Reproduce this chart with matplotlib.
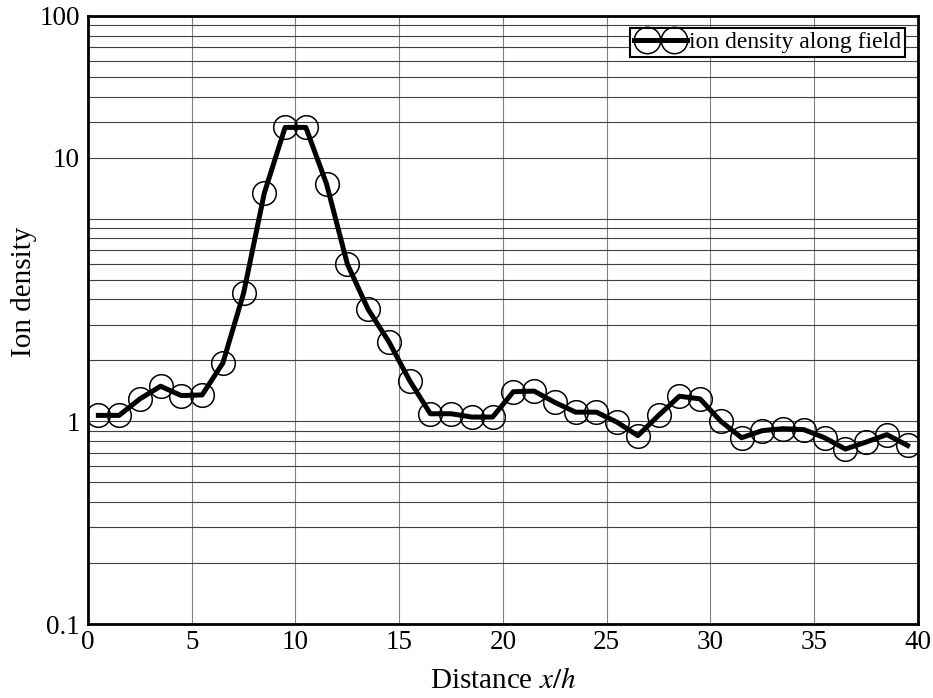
import numpy as np
import matplotlib
matplotlib.use("Agg")
import matplotlib.pyplot as plt
from matplotlib.lines import Line2D
from matplotlib.legend_handler import HandlerLine2D, HandlerTuple
from matplotlib.ticker import FixedLocator, LogLocator, NullFormatter

plt.rcParams['font.family'] = ['Liberation Serif', 'DejaVu Serif']
plt.rcParams['mathtext.fontset'] = 'stix'

# sample positions along the field (x/h) and ion density
distance = [0.5, 1.5, 2.5, 3.5, 4.5, 5.5, 6.5, 7.5, 8.5, 9.5,
            10.5, 11.5, 12.5, 13.5, 14.5, 15.5, 16.5, 17.5, 18.5, 19.5,
            20.5, 21.5, 22.5, 23.5, 24.5, 25.5, 26.5, 27.5, 28.5, 29.5,
            30.5, 31.5, 32.5, 33.5, 34.5, 35.5, 36.5, 37.5, 38.5, 39.5]
density = [1.07, 1.07, 1.29, 1.49, 1.34, 1.35, 1.94, 4.29, 13.4, 28.2,
           28.2, 14.8, 5.97, 3.57, 2.47, 1.59, 1.09, 1.09, 1.05, 1.05,
           1.40, 1.41, 1.24, 1.11, 1.11, 0.99, 0.85, 1.07, 1.33, 1.29,
           1.00, 0.83, 0.90, 0.92, 0.91, 0.83, 0.73, 0.79, 0.86, 0.76]

# tick labels as printed on the reference (the "10" label sits on the 20 line)
ytick_pos = [0.1, 1, 20, 100]
ytick_lab = ['0.1', '1', '10', '100']
xticks = [0, 5, 10, 15, 20, 25, 30, 35, 40]

fig = plt.figure(figsize=(9.33, 6.98), dpi=100)
ax = fig.add_axes([0.0943, 0.106, 0.8896, 0.8711])

ax.plot(distance, density, color='black', linewidth=3.6, marker='o',
        markersize=17, markerfacecolor='none', markeredgecolor='black',
        markeredgewidth=1.1, zorder=3)

ax.set_yscale('log')
ax.set_ylim(0.1, 100)
ax.set_xlim(0, 40)

ax.yaxis.set_major_locator(FixedLocator(ytick_pos))
ax.set_yticklabels(ytick_lab)
ax.yaxis.set_minor_locator(LogLocator(base=10, subs=np.arange(1, 10)))
ax.yaxis.set_minor_formatter(NullFormatter())
ax.set_xticks(xticks)
ax.set_xticklabels([str(t) for t in xticks])

ax.grid(True, which='both', axis='y', color='#404040', linewidth=0.8)
ax.grid(True, which='major', axis='x', color='#808080', linewidth=0.8)
ax.tick_params(which='both', length=0, labelsize=19.5)
ax.tick_params(axis='x', pad=4)
ax.tick_params(axis='y', pad=6)

for s in ax.spines.values():
    s.set_linewidth(2)
    s.set_zorder(4)

ax.set_xlabel('Distance $x/h$', fontsize=21)
ax.xaxis.set_label_coords(0.5, -0.072)
ax.set_ylabel('Ion density', fontsize=21)
ax.yaxis.set_label_coords(-0.062, 0.546)

# legend handle: thick line across, two open circles on it
line_proxy = Line2D([], [], color='black', linewidth=3.6)
mark_proxy = Line2D([], [], color='black', linestyle='none', marker='o',
                    markersize=19, markerfacecolor='none', markeredgewidth=1.1)
leg = ax.legend(handles=[(line_proxy, mark_proxy)],
                labels=['ion density along field'],
                handler_map={tuple: HandlerTuple(ndivide=1, pad=0),
                             line_proxy: HandlerLine2D(numpoints=1),
                             mark_proxy: HandlerLine2D(numpoints=2, marker_pad=0.55)},
                loc='upper right', bbox_to_anchor=(0.984, 0.980),
                fontsize=17, fancybox=False, framealpha=1, edgecolor='black',
                borderpad=0.15, handlelength=2.25, handletextpad=0.1,
                borderaxespad=0)
leg.get_frame().set_linewidth(1.5)

fig.savefig('out.png', dpi=100)
